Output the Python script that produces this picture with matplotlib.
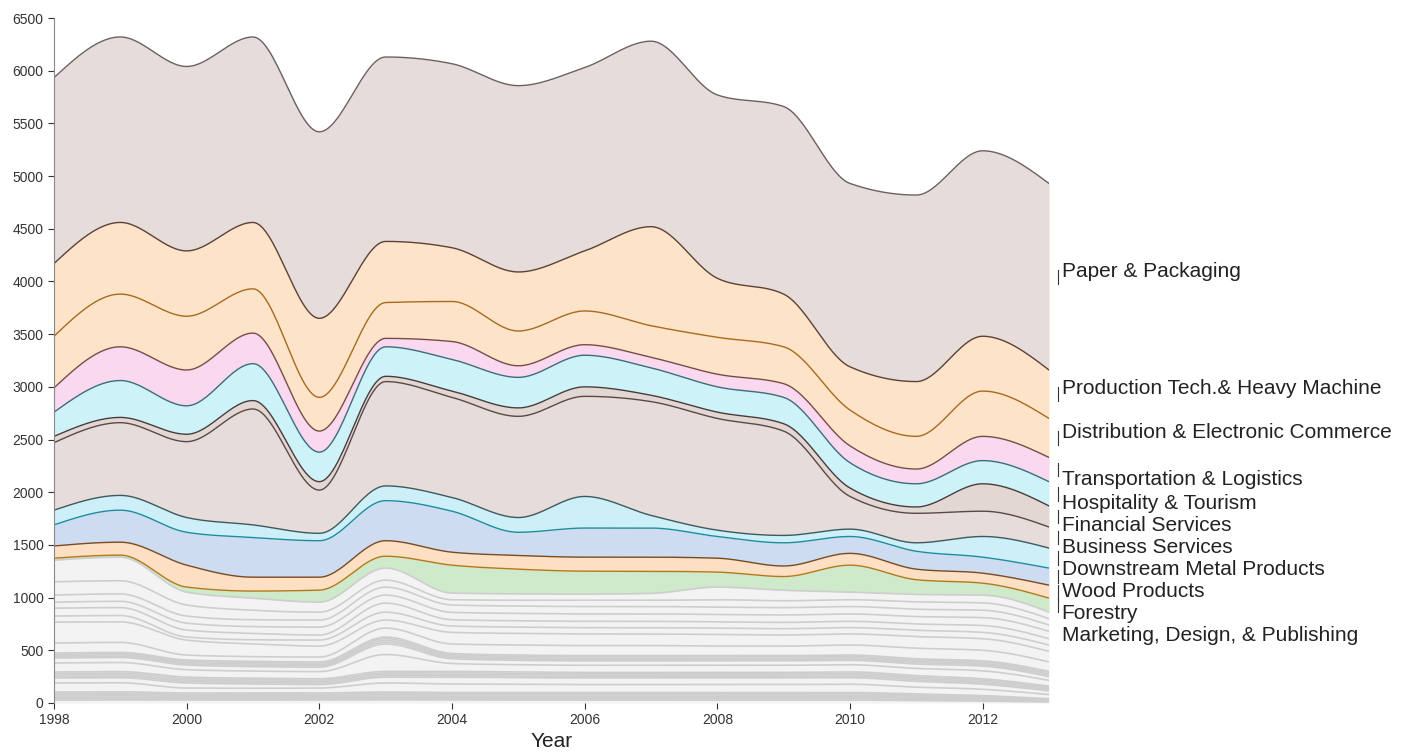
import numpy as np
import matplotlib
matplotlib.use("Agg")
import matplotlib.pyplot as plt

plt.rcParams['font.family'] = ['Liberation Sans', 'DejaVu Sans']

years = list(range(1998, 2014))

# labelled clusters (values per year), bottom of the stack first
marketing = [19, 19, 48, 67, 114, 113, 265, 235, 218, 210, 142, 130, 256, 140, 113, 132]
forestry = [116, 123, 208, 132, 123, 147, 123, 130, 133, 134, 132, 100, 112, 100, 95, 123]
wood = [200, 304, 312, 376, 346, 380, 389, 220, 276, 276, 206, 220, 160, 170, 152, 162]
downstream = [140, 140, 140, 120, 70, 140, 130, 140, 300, 120, 60, 70, 70, 80, 196, 190]
business = [640, 690, 720, 1100, 410, 990, 950, 960, 950, 1080, 1060, 990, 310, 280, 240, 200]
financial = [60, 50, 70, 80, 80, 50, 60, 80, 90, 60, 60, 70, 80, 60, 260, 200]
hospitality = [230, 350, 270, 350, 280, 280, 300, 290, 300, 260, 240, 250, 240, 220, 220, 230]
transportation = [230, 320, 340, 290, 200, 80, 170, 110, 100, 100, 120, 130, 160, 140, 230, 230]
distribution = [490, 500, 510, 420, 320, 340, 380, 330, 320, 300, 350, 350, 340, 310, 430, 370]
production = [690, 680, 620, 630, 750, 580, 510, 560, 570, 940, 560, 500, 410, 520, 520, 460]
paper = [1764, 1760, 1750, 1760, 1770, 1750, 1746, 1768, 1740, 1760, 1740, 1780, 1740, 1770, 1760, 1770]

labels = ["Marketing, Design, & Publishing", "Forestry", "Wood Products",
          "Downstream Metal Products", "Business Services", "Financial Services",
          "Hospitality & Tourism", "Transportation & Logistics",
          "Distribution & Electronic Commerce", "Production Tech.& Heavy Machine",
          "Paper & Packaging"]

# unlabelled clusters drawn in grey underneath, bottom first
other_clusters = [
    [28, 29, 28, 28, 28, 30, 28, 28, 28, 28, 28, 28, 28, 23, 18, 10],
    [13, 13, 11, 11, 11, 12, 12, 12, 12, 12, 12, 12, 12, 10, 9, 5],
    [12, 13, 11, 11, 11, 13, 12, 12, 12, 12, 12, 12, 12, 11, 9, 5],
    [13, 13, 12, 11, 11, 12, 12, 12, 12, 12, 12, 12, 12, 10, 8, 5],
    [13, 12, 11, 12, 11, 12, 12, 12, 12, 12, 12, 12, 12, 10, 9, 5],
    [12, 13, 11, 11, 12, 12, 12, 12, 12, 12, 12, 12, 12, 11, 9, 5],
    [13, 13, 11, 11, 11, 13, 12, 12, 12, 12, 12, 12, 12, 10, 8, 5],
    [86, 86, 47, 45, 47, 86, 80, 78, 75, 75, 75, 75, 78, 65, 60, 40],
    [47, 48, 48, 40, 33, 55, 65, 62, 63, 63, 63, 63, 62, 55, 48, 35],
    [14, 15, 14, 14, 14, 14, 14, 14, 13, 13, 13, 13, 14, 14, 13, 11],
    [15, 14, 14, 14, 14, 14, 14, 14, 13, 13, 13, 13, 14, 14, 13, 12],
    [14, 15, 14, 13, 14, 13, 14, 13, 13, 13, 13, 13, 13, 13, 13, 11],
    [14, 14, 14, 14, 13, 14, 13, 14, 13, 13, 13, 13, 14, 14, 13, 11],
    [86, 86, 70, 68, 68, 160, 75, 68, 68, 68, 68, 68, 68, 68, 75, 55],
    [47, 48, 44, 42, 42, 100, 45, 42, 42, 42, 42, 42, 42, 42, 45, 35],
    [12, 12, 12, 13, 12, 17, 13, 13, 13, 13, 13, 13, 13, 13, 13, 13],
    [12, 12, 12, 12, 12, 16, 12, 12, 12, 12, 12, 12, 12, 12, 12, 12],
    [11, 12, 12, 13, 13, 17, 13, 13, 13, 13, 13, 13, 13, 13, 13, 13],
    [12, 12, 12, 12, 12, 16, 12, 12, 12, 12, 12, 12, 12, 12, 12, 12],
    [95, 95, 47, 45, 47, 85, 90, 95, 95, 95, 90, 90, 95, 100, 100, 90],
    [199, 195, 142, 120, 104, 76, 110, 110, 110, 110, 110, 105, 105, 110, 110, 100],
    [57, 60, 29, 40, 57, 75, 60, 60, 60, 60, 60, 60, 60, 60, 60, 60],
    [75, 75, 66, 60, 48, 86, 60, 60, 60, 60, 60, 60, 60, 60, 65, 60],
    [57, 60, 66, 65, 75, 76, 70, 70, 70, 70, 70, 70, 70, 70, 75, 70],
    [67, 70, 67, 65, 67, 76, 70, 70, 70, 70, 70, 70, 70, 70, 70, 60],
    [126, 125, 105, 90, 75, 66, 50, 55, 60, 60, 70, 65, 65, 70, 70, 60],
    [205, 224, 122, 115, 95, 114, 63, 60, 58, 65, 120, 100, 72, 70, 74, 63],
]

fills = ['#cfe9cb', '#fddfc4', '#cddcf0', '#cdf0f8', '#e6dcd9', '#e3d7d4',
         '#cdf2f8', '#fad8f0', '#fde3c8', '#fde3c8', '#e6dcd9']
edges = ['#b07a1a', '#7a4a20', '#1e8c9c', '#3a5a60', '#5a4848', '#4a3a3a',
         '#3a6e7a', '#7a4a4a', '#a86a1e', '#5e4035', '#6a6060']


def monotone(x, y, n=30):
    # monotone cubic (same idea as d3.curveMonotoneX)
    x = np.asarray(x, float)
    y = np.asarray(y, float)
    h = np.diff(x)
    s = np.diff(y) / h
    m = np.zeros_like(y)
    for i in range(1, len(y) - 1):
        p = (s[i - 1] * h[i] + s[i] * h[i - 1]) / (h[i - 1] + h[i])
        sg = (1 if s[i - 1] >= 0 else -1) + (1 if s[i] >= 0 else -1)
        m[i] = sg * min(abs(s[i - 1]), abs(s[i]), 0.5 * abs(p))
    m[0] = (3 * s[0] - m[1]) / 2
    m[-1] = (3 * s[-1] - m[-2]) / 2
    xs, ys = [], []
    for i in range(len(x) - 1):
        t = np.linspace(0, 1, n, endpoint=(i == len(x) - 2))
        h00 = 2 * t**3 - 3 * t**2 + 1
        h10 = t**3 - 2 * t**2 + t
        h01 = -2 * t**3 + 3 * t**2
        h11 = t**3 - t**2
        xs.append(x[i] + t * h[i])
        ys.append(h00 * y[i] + h10 * h[i] * m[i] + h01 * y[i + 1] + h11 * h[i] * m[i + 1])
    return np.concatenate(xs), np.concatenate(ys)


fig = plt.figure(figsize=(14.11, 7.53), dpi=100)
ax = fig.add_axes([54 / 1411, 50 / 753, 995 / 1411, 685 / 753])

base = np.zeros(len(years))
for vals in other_clusters:
    top = base + np.array(vals)
    xs, lo = monotone(years, base)
    _, hi = monotone(years, top)
    ax.fill_between(xs, lo, hi, color='#f3f3f3', lw=0)
    ax.plot(xs, hi, color='#cecece', lw=1.2)
    base = top

series = [marketing, forestry, wood, downstream, business, financial,
          hospitality, transportation, distribution, production, paper]
centers = []
for vals, fc, ec in zip(series, fills, edges):
    top = base + np.array(vals)
    xs, lo = monotone(years, base)
    _, hi = monotone(years, top)
    ax.fill_between(xs, lo, hi, color=fc, lw=0)
    ax.plot(xs, hi, color=ec, lw=1.0)
    centers.append((base[-1] + top[-1]) / 2)
    base = top

# right-hand labels: pushed down so they do not overlap, crowded ones hang below
gap = 208
prev_c = None
prev_y = None
for name, c in reversed(list(zip(labels, centers))):
    y = c if prev_y is None else min(c, prev_y - gap)
    crowded = prev_c is not None and prev_c - c < 1.5 * gap
    prev_c, prev_y = c, y
    ax.plot([2013.136, 2013.136], [c - 65, c + 65], color='#333333', lw=0.8, clip_on=False)
    ax.text(2013.19, y, name, fontsize=15, color='#222222',
            va='top' if crowded else 'baseline', ha='left')

ax.set_xlim(1998, 2013)
ax.set_ylim(0, 6500)
ax.set_xticks(range(1998, 2013, 2))
ax.set_yticks(range(0, 6501, 500))
ax.tick_params(axis='both', labelsize=10, colors='#333333', length=4.5, width=0.8, pad=3)
for side in ['top', 'right', 'bottom']:
    ax.spines[side].set_visible(False)
ax.spines['left'].set_color('#888888')
ax.spines['left'].set_linewidth(0.8)
ax.set_xlabel('Year', fontsize=15, color='#222222', labelpad=3)

fig.savefig('out.png', dpi=100)
